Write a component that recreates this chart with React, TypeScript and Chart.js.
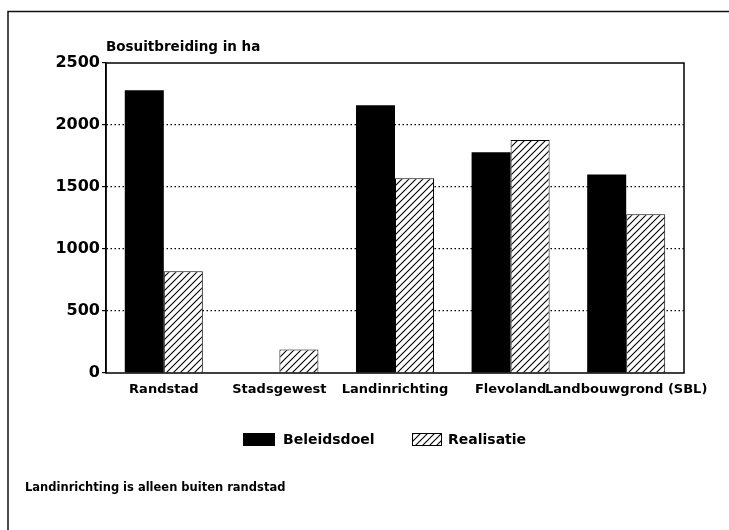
import React, { useEffect, useRef } from "react";
import { Chart, registerables } from "chart.js";

Chart.register(...registerables);

const categories = ["Randstad", "Stadsgewest", "Landinrichting", "Flevoland", "Landbouwgrond (SBL)"];
const beleidsdoel = [2280, 0, 2160, 1780, 1600];
const realisatie = [820, 190, 1570, 1880, 1280];
const seriesNames = ["Beleidsdoel", "Realisatie"];
const yMin = 0;
const yMax = 2500;
const yStep = 500;
const yTitle = "Bosuitbreiding in ha";
const footnote = "Landinrichting is alleen buiten randstad";

const FONT = "'DejaVu Sans', 'Liberation Sans', sans-serif";

function makeHatch(): CanvasPattern | string {
  const s = 7;
  const c = document.createElement("canvas");
  c.width = s;
  c.height = s;
  const g = c.getContext("2d");
  if (!g) return "#fff";
  g.fillStyle = "#fff";
  g.fillRect(0, 0, s, s);
  g.strokeStyle = "#000";
  g.lineWidth = 1.1;
  g.beginPath();
  g.moveTo(-1, s + 1);
  g.lineTo(s + 1, -1);
  g.moveTo(-2, 2);
  g.lineTo(2, -2);
  g.moveTo(s - 2, s + 2);
  g.lineTo(s + 2, s - 2);
  g.stroke();
  const p = g.createPattern(c, "repeat");
  return p || "#fff";
}

export default function App() {
  const ref = useRef<HTMLCanvasElement | null>(null);

  useEffect(() => {
    const canvas = ref.current;
    if (!canvas) return;
    const hatch = makeHatch();

    const decor = {
      id: "decor",
      afterDraw(chart: any) {
        const ctx = chart.ctx as CanvasRenderingContext2D;
        const a = chart.chartArea;
        ctx.save();
        // outer frame (top and left only)
        ctx.strokeStyle = "#111";
        ctx.lineWidth = 1.5;
        ctx.beginPath();
        ctx.moveTo(8, 530);
        ctx.lineTo(8, 11.5);
        ctx.lineTo(729, 11.5);
        ctx.stroke();
        // plot frame
        ctx.lineWidth = 1.5;
        ctx.strokeStyle = "#000";
        ctx.strokeRect(a.left, a.top, a.right - a.left, a.bottom - a.top);
        // axis title
        ctx.fillStyle = "#000";
        ctx.font = `bold 13.5px ${FONT}`;
        ctx.textAlign = "left";
        ctx.textBaseline = "middle";
        ctx.fillText(yTitle, a.left, 47);
        // legend
        const ds = chart.data.datasets;
        const legendY = 433;
        const boxH = 13;
        const items = [
          { x: 243, w: 32, tx: 283 },
          { x: 412, w: 30, tx: 448 },
        ];
        ctx.font = `bold 14px ${FONT}`;
        items.forEach((it, i) => {
          ctx.fillStyle = ds[i].backgroundColor;
          ctx.fillRect(it.x, legendY, it.w, boxH);
          if (i === 1) {
            ctx.strokeStyle = "#000";
            ctx.lineWidth = 1;
            ctx.strokeRect(it.x + 0.5, legendY + 0.5, it.w - 1, boxH - 1);
          }
          ctx.fillStyle = "#000";
          ctx.fillText(ds[i].label, it.tx, legendY + boxH / 2 + 1);
        });
        // footnote
        ctx.font = `bold 11.5px ${FONT}`;
        ctx.fillText(footnote, 25, 488);
        ctx.restore();
      },
    };

    const chart = new Chart(canvas, {
      type: "bar",
      data: {
        labels: categories,
        datasets: [
          {
            label: seriesNames[0],
            data: beleidsdoel,
            backgroundColor: "#000",
            borderWidth: 0,
            categoryPercentage: 0.675,
            barPercentage: 1.0,
          },
          {
            label: seriesNames[1],
            data: realisatie,
            backgroundColor: hatch as any,
            borderColor: "#000",
            borderWidth: 1,
            categoryPercentage: 0.675,
            barPercentage: 1.0,
          },
        ],
      },
      options: {
        responsive: false,
        animation: false,
        devicePixelRatio: 1,
        layout: { padding: { top: 63, right: 45, bottom: 127, left: 0 } },
        plugins: {
          legend: { display: false },
          title: { display: false },
          tooltip: { enabled: false },
        },
        scales: {
          x: {
            grid: { display: false, drawTicks: false },
            border: { display: false },
            ticks: {
              color: "#000",
              font: { family: FONT, size: 13, weight: "bold" },
              padding: 9,
              maxRotation: 0,
              autoSkip: false,
            },
            afterFit(scale: any) {
              scale.height = 30;
            },
          },
          y: {
            min: yMin,
            max: yMax,
            border: { display: true, color: "#000", width: 1.5, dash: [1.5, 2.5] },
            grid: {
              color: (c: any) =>
                c.tick && (c.tick.value === yMin || c.tick.value === yMax) ? "rgba(0,0,0,0)" : "#000",
              lineWidth: 1.2,
              tickLength: 4,
              tickColor: "#000",
            },
            ticks: {
              stepSize: yStep,
              color: "#000",
              font: { family: FONT, size: 16, weight: "bold" },
              padding: 2,
              callback: (v: any) => String(v),
            },
            afterFit(scale: any) {
              scale.width = 106;
            },
          },
        },
      },
      plugins: [decor],
    });

    return () => chart.destroy();
  }, []);

  return (
    <div style={{ position: "fixed", left: 0, top: 0, width: 729, height: 530, background: "#fff" }}>
      <canvas ref={ref} width={729} height={530} style={{ display: "block", width: 729, height: 530 }} />
    </div>
  );
}
